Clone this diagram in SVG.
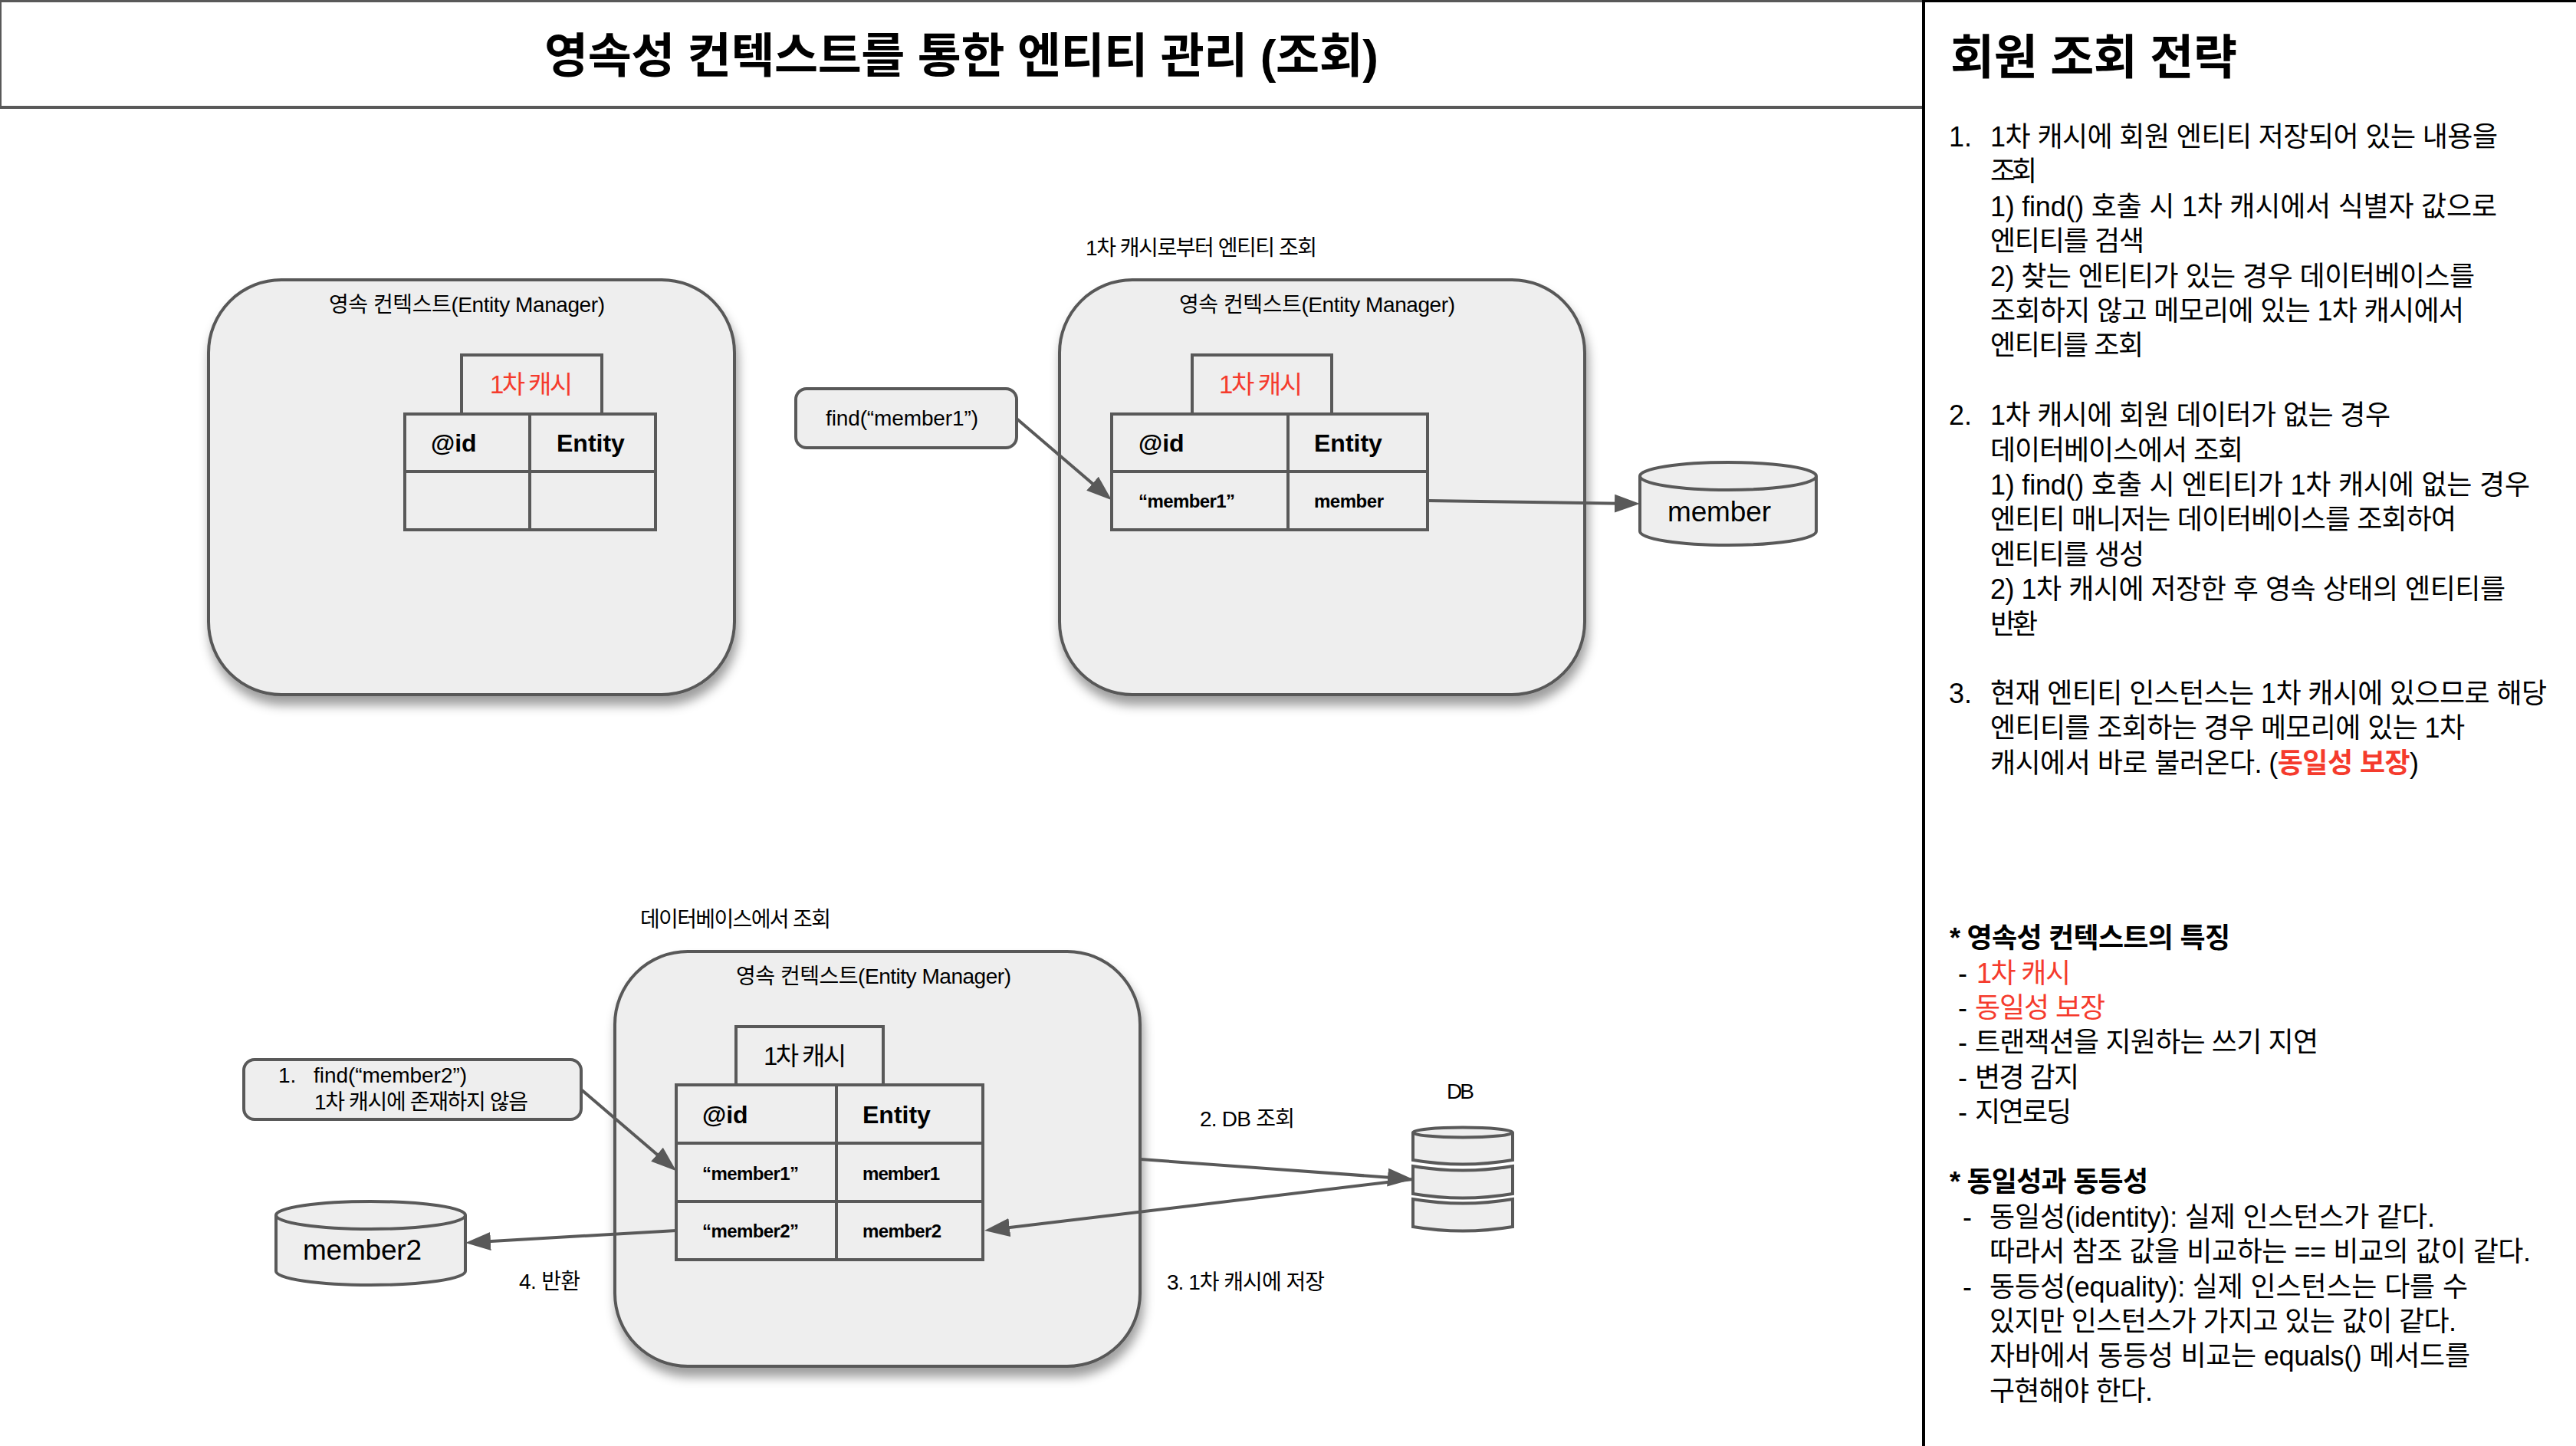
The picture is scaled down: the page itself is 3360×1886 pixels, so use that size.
<svg xmlns="http://www.w3.org/2000/svg" width="3360" height="1886" viewBox="0 0 3360 1886">
<style>
text{font-family:"Liberation Sans","Noto Sans CJK KR",sans-serif;fill:#000}
.b{font-weight:bold}
.s{font-size:28px}
.m{font-size:36px}
.h{font-size:32px}
.k{font-size:33px}
.c{font-size:24px;font-weight:bold}
.t{font-size:62px;font-weight:bold}
.red{fill:#f53b2d}
.shape{fill:#eeeeee;stroke:#595959;stroke-width:4}
.thin{fill:none;stroke:#595959;stroke-width:4}
.conn{fill:none;stroke:#595959;stroke-width:4;marker-end:url(#arrow)}
</style>
<defs>
<marker id="arrow" markerUnits="userSpaceOnUse" markerWidth="34" markerHeight="26" refX="25" refY="13" orient="auto"><path d="M0 1L33 13L0 25Z" fill="#595959"/></marker>
<filter id="sh" x="-5%" y="-5%" width="112%" height="115%"><feDropShadow dx="3" dy="12" stdDeviation="7" flood-color="#000" flood-opacity="0.38"/></filter>
</defs>
<rect width="3360" height="1886" fill="#fff"/>
<g id="title">
<rect x="0" y="1" width="2509" height="139" fill="#fff" stroke="#595959" stroke-width="4"/>
<text class="t" x="710" y="95" textLength="1088">영속성 컨텍스트를 통한 엔티티 관리 (조회)</text>
</g>
<g id="context1">
<rect class="shape" filter="url(#sh)" x="272" y="365" width="686" height="541" rx="95" ry="95"/>
<text class="s" x="429" y="407" textLength="360">영속 컨텍스트(Entity Manager)</text>
</g>
<g id="cache1">
<rect class="shape" x="602" y="463" width="183" height="77"/>
<text class="k red" x="639" y="513" textLength="108">1차 캐시</text>
<path class="shape" d="M528 540H855V691H528ZM528 615H855M691 540V691"/>
<text class="h b" x="562" y="589">@id</text>
<text class="h b" x="726" y="589">Entity</text>
</g>
<g id="find1">
<rect class="shape" x="1038" y="507" width="288" height="77" rx="14"/>
<text class="s" x="1077" y="555" textLength="199">find(“member1”)</text>
</g>
<g id="context2">
<text class="s" x="1416" y="333" textLength="302">1차 캐시로부터 엔티티 조회</text>
<rect class="shape" filter="url(#sh)" x="1382" y="365" width="685" height="541" rx="95" ry="95"/>
<text class="s" x="1538" y="407" textLength="360">영속 컨텍스트(Entity Manager)</text>
</g>
<g id="cache2">
<rect class="shape" x="1555" y="463" width="182" height="77"/>
<text class="k red" x="1590" y="513" textLength="109">1차 캐시</text>
<path class="shape" d="M1450 540H1862V691H1450ZM1450 615H1862M1680 540V691"/>
<text class="h b" x="1485" y="589">@id</text>
<text class="h b" x="1714" y="589">Entity</text>
<text class="c" x="1485" y="662" textLength="126">“member1”</text>
<text class="c" x="1714" y="662" textLength="91">member</text>
</g>
<g id="entity-member">
<path class="shape" d="M2139 621A115 18 0 0 1 2369 621V693A115 18 0 0 1 2139 693Z"/>
<path class="thin" d="M2139 621A115 18 0 0 0 2369 621"/>
<text x="2175" y="680" font-size="37" textLength="135">member</text>
</g>
<g id="context3">
<text class="s" x="835" y="1209" textLength="249">데이터베이스에서 조회</text>
<rect class="shape" filter="url(#sh)" x="802" y="1241" width="685" height="541" rx="95" ry="95"/>
<text class="s" x="960" y="1283" textLength="359">영속 컨텍스트(Entity Manager)</text>
</g>
<g id="cache3">
<rect class="shape" x="960" y="1339" width="192" height="76"/>
<text class="k" x="996" y="1389" textLength="108">1차 캐시</text>
<path class="shape" d="M882 1415H1282V1643H882ZM882 1491H1282M882 1567H1282M1091 1415V1643"/>
<text class="h b" x="916" y="1465">@id</text>
<text class="h b" x="1125" y="1465">Entity</text>
<text class="c" x="916" y="1539" textLength="126">“member1”</text>
<text class="c" x="1125" y="1539" textLength="101">member1</text>
<text class="c" x="916" y="1614" textLength="126">“member2”</text>
<text class="c" x="1125" y="1614" textLength="103">member2</text>
</g>
<g id="find2">
<rect class="shape" x="318" y="1382" width="440" height="78" rx="14"/>
<text class="s" x="363" y="1412">1.</text>
<text class="s" x="409" y="1412" textLength="200">find(“member2”)</text>
<text class="s" x="410" y="1447" textLength="279">1차 캐시에 존재하지 않음</text>
</g>
<g id="entity-member2">
<path class="shape" d="M360 1585A123.500 18 0 0 1 607 1585V1658A123.500 18 0 0 1 360 1658Z"/>
<path class="thin" d="M360 1585A123.500 18 0 0 0 607 1585"/>
<text x="395" y="1643" font-size="37" textLength="155">member2</text>
</g>
<g id="db">
<text class="s" x="1887" y="1433" textLength="36">DB</text>
<path class="shape" d="M1843 1477A65 6.500 0 0 1 1973 1477V1513Q1908 1524 1843 1513Z"/>
<path class="thin" d="M1843 1477A65 6.500 0 0 0 1973 1477"/>
<path class="shape" d="M1843 1521Q1908 1532 1973 1521V1557Q1908 1568 1843 1557Z"/>
<path class="shape" d="M1843 1564Q1908 1575 1973 1564V1600Q1908 1611 1843 1600Z"/>
</g>
<g id="connectors">
<path class="conn" d="M1326 546L1444 647"/>
<path class="conn" d="M1862 653L2131 657"/>
<path class="conn" d="M758 1421L876 1522"/>
<path class="conn" d="M1488 1512L1835 1537.400"/>
<path class="conn" d="M1843 1538L1292 1604"/>
<path class="conn" d="M882 1605L615 1620.500"/>
</g>
<g id="edge-labels">
<text class="s" x="1565" y="1469" textLength="124">2. DB 조회</text>
<text class="s" x="1522" y="1682" textLength="206">3. 1차 캐시에 저장</text>
<text class="s" x="677" y="1681" textLength="80">4. 반환</text>
</g>
<g id="panel">
<rect x="2509" y="1" width="860" height="1890" fill="none" stroke="#000" stroke-width="4"/>
<text class="t" x="2544" y="97" textLength="374">회원 조회 전략</text>
<text class="m" x="2542" y="191">1.</text>
<text class="m" x="2596" y="191" textLength="662">1차 캐시에 회원 엔티티 저장되어 있는 내용을</text>
<text class="m" x="2596" y="236.400" textLength="61">조회</text>
<text class="m" x="2596" y="281.800" textLength="661">1) find() 호출 시 1차 캐시에서 식별자 값으로</text>
<text class="m" x="2596" y="327.200" textLength="201">엔티티를 검색</text>
<text class="m" x="2596" y="372.600" textLength="632">2) 찾는 엔티티가 있는 경우 데이터베이스를</text>
<text class="m" x="2596" y="418" textLength="618">조회하지 않고 메모리에 있는 1차 캐시에서</text>
<text class="m" x="2596" y="463.400" textLength="200">엔티티를 조회</text>
<text class="m" x="2542" y="554.200">2.</text>
<text class="m" x="2596" y="554.200" textLength="522">1차 캐시에 회원 데이터가 없는 경우</text>
<text class="m" x="2596" y="599.600" textLength="330">데이터베이스에서 조회</text>
<text class="m" x="2596" y="645" textLength="704">1) find() 호출 시 엔티티가 1차 캐시에 없는 경우</text>
<text class="m" x="2596" y="690.400" textLength="608">엔티티 매니저는 데이터베이스를 조회하여</text>
<text class="m" x="2596" y="735.800" textLength="201">엔티티를 생성</text>
<text class="m" x="2596" y="781.200" textLength="672">2) 1차 캐시에 저장한 후 영속 상태의 엔티티를</text>
<text class="m" x="2596" y="826.600" textLength="62">반환</text>
<text class="m" x="2542" y="917">3.</text>
<text class="m" x="2596" y="917" textLength="726">현재 엔티티 인스턴스는 1차 캐시에 있으므로 해당</text>
<text class="m" x="2596" y="962.400" textLength="619">엔티티를 조회하는 경우 메모리에 있는 1차</text>
<text class="m" x="2596" y="1007.800" textLength="559">캐시에서 바로 불러온다. (<tspan class="b red">동일성 보장</tspan>)</text>
<text class="m b" x="2543" y="1236" textLength="366">* 영속성 컨텍스트의 특징</text>
<text class="m" x="2554" y="1281.500">-</text><text class="m red" x="2578" y="1281.500" textLength="123">1차 캐시</text>
<text class="m" x="2554" y="1327">-</text><text class="m red" x="2576" y="1327" textLength="170">동일성 보장</text>
<text class="m" x="2554" y="1372.400">-</text><text class="m" x="2576" y="1372.400" textLength="448">트랜잭션을 지원하는 쓰기 지연</text>
<text class="m" x="2554" y="1417.900">-</text><text class="m" x="2576" y="1417.900" textLength="136">변경 감지</text>
<text class="m" x="2554" y="1463.300">-</text><text class="m" x="2576" y="1463.300" textLength="126">지연로딩</text>
<text class="m b" x="2543" y="1554.200" textLength="259">* 동일성과 동등성</text>
<text class="m" x="2560" y="1599.600">-</text><text class="m" x="2595" y="1599.600" textLength="581">동일성(identity): 실제 인스턴스가 같다.</text>
<text class="m" x="2595" y="1645" textLength="706">따라서 참조 값을 비교하는 == 비교의 값이 같다.</text>
<text class="m" x="2560" y="1690.500">-</text><text class="m" x="2595" y="1690.500" textLength="624">동등성(equality): 실제 인스턴스는 다를 수</text>
<text class="m" x="2595" y="1736" textLength="609">있지만 인스턴스가 가지고 있는 값이 같다.</text>
<text class="m" x="2595" y="1781.400" textLength="627">자바에서 동등성 비교는 equals() 메서드를</text>
<text class="m" x="2595" y="1826.900" textLength="213">구현해야 한다.</text>
</g>
</svg>
